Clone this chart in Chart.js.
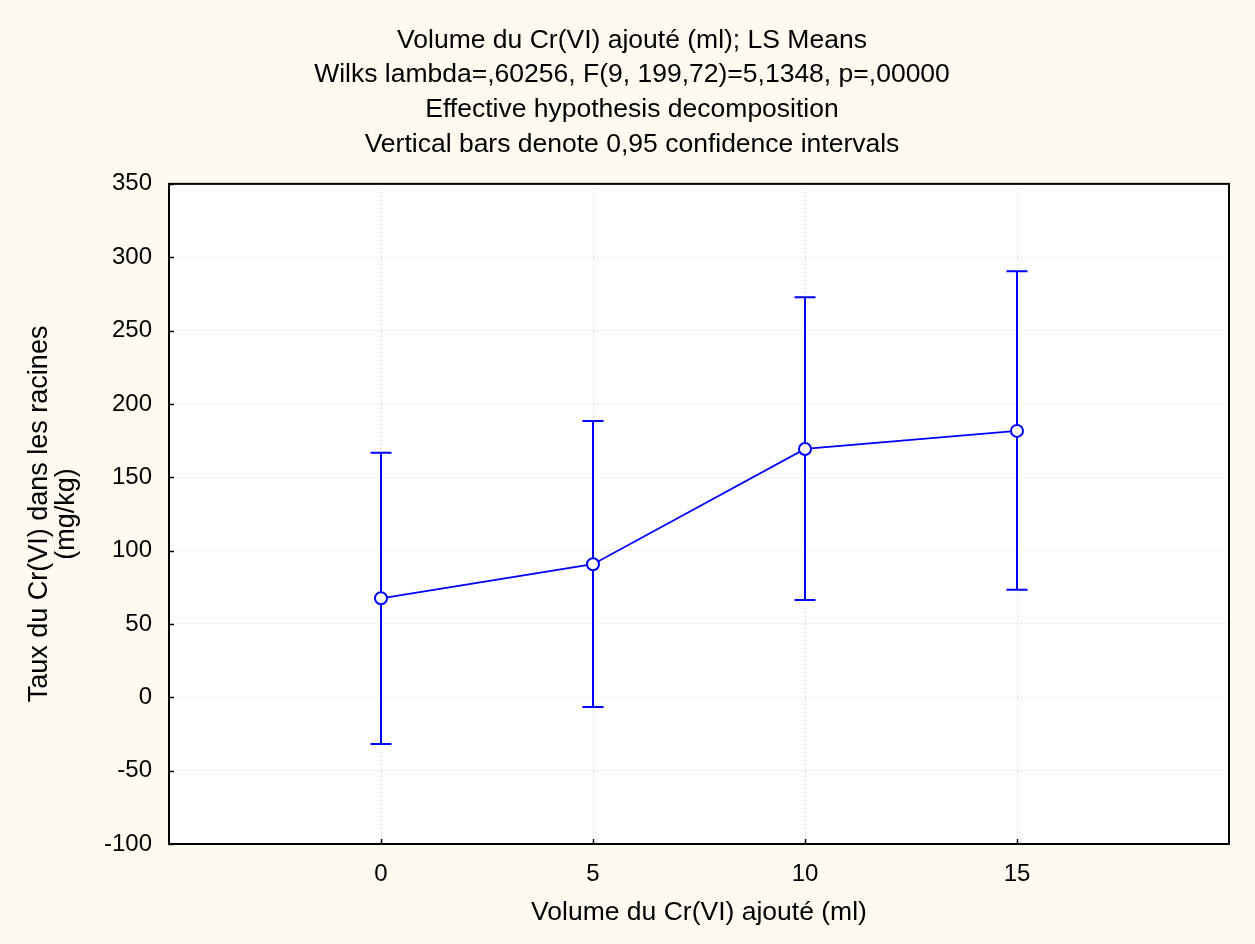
<!DOCTYPE html>
<html>
<head>
<meta charset="utf-8">
<script src="https://cdn.jsdelivr.net/npm/chart.js@4/dist/chart.umd.min.js"></script>
<style>
  html, body { margin: 0; padding: 0; background: #FEFAF0; }
  #wrap { width: 1255px; height: 944px; }
  canvas { display: block; }
</style>
</head>
<body>
<div id="wrap"><canvas id="c" width="1255" height="944"></canvas></div>
<script>
// ---- data ----
const volumes = [0, 5, 10, 15];
const lsMeans = [67.5, 90.7, 169.3, 181.6];
const ciLower = [-31.8, -6.6, 66.4, 73.4];
const ciUpper = [166.7, 188.4, 272.7, 290.5];
const xTickValues = [0, 5, 10, 15];
const titleLines = [
  'Volume du Cr(VI) ajouté (ml); LS Means',
  'Wilks lambda=,60256, F(9, 199,72)=5,1348, p=,00000',
  'Effective hypothesis decomposition',
  'Vertical bars denote 0,95 confidence intervals'
];
const xAxisTitle = 'Volume du Cr(VI) ajouté (ml)';
const yAxisTitle = ['Taux du Cr(VI) dans les racines', '(mg/kg)'];

const FONT = "'Liberation Sans', Arial, sans-serif";
const BLUE = '#0000FF';

const plotFrame = {
  id: 'plotFrame',
  beforeDraw(chart) {
    const {ctx, chartArea: a} = chart;
    ctx.save();
    ctx.fillStyle = '#FFFFFF';
    ctx.fillRect(a.left, a.top, a.right - a.left, a.bottom - a.top);
    ctx.restore();
  },
  beforeDatasetsDraw(chart) {
    const {ctx, scales: {x, y}} = chart;
    ctx.save();
    ctx.strokeStyle = BLUE;
    ctx.lineWidth = 2;
    for (let i = 0; i < volumes.length; i++) {
      const px = x.getPixelForValue(volumes[i]);
      const pLo = y.getPixelForValue(ciLower[i]);
      const pHi = y.getPixelForValue(ciUpper[i]);
      ctx.beginPath();
      ctx.moveTo(px, pLo); ctx.lineTo(px, pHi);
      ctx.moveTo(px - 10.5, pLo); ctx.lineTo(px + 10.5, pLo);
      ctx.moveTo(px - 10.5, pHi); ctx.lineTo(px + 10.5, pHi);
      ctx.stroke();
    }
    ctx.restore();
  },
  afterDatasetsDraw(chart) {
    const {ctx, chartArea: a, scales: {x, y}} = chart;
    ctx.save();
    ctx.strokeStyle = '#000000';
    ctx.lineWidth = 1.5;
    ctx.beginPath();
    y.ticks.forEach(t => {
      const py = Math.round(y.getPixelForValue(t.value)) + 0.5;
      ctx.moveTo(a.left, py); ctx.lineTo(a.left + 5, py);
    });
    x.ticks.forEach(t => {
      const px = Math.round(x.getPixelForValue(t.value)) + 0.5;
      ctx.moveTo(px, a.bottom); ctx.lineTo(px, a.bottom - 5);
    });
    ctx.stroke();
    ctx.lineWidth = 2;
    ctx.strokeRect(a.left, a.top, a.right - a.left, a.bottom - a.top);
    ctx.restore();
  }
};

new Chart(document.getElementById('c'), {
  type: 'line',
  data: {
    datasets: [{
      data: volumes.map((v, i) => ({x: v, y: lsMeans[i]})),
      borderColor: BLUE,
      borderWidth: 1.8,
      pointRadius: 6,
      pointHoverRadius: 6,
      pointBorderWidth: 2,
      pointBackgroundColor: '#FFFFFF',
      pointBorderColor: BLUE,
      tension: 0,
      fill: false
    }]
  },
  options: {
    responsive: false,
    animation: false,
    events: [],
    layout: { padding: { left: 35, right: 26, top: 0, bottom: 0 } },
    plugins: {
      legend: { display: false },
      tooltip: { enabled: false },
      title: {
        display: true,
        text: titleLines,
        color: '#000000',
        font: { family: FONT, size: 26.5, weight: 'normal', lineHeight: 1.31 },
        padding: { top: 23, bottom: 22 }
      }
    },
    scales: {
      x: {
        type: 'linear',
        min: -5,
        max: 20,
        afterBuildTicks(scale) { scale.ticks = xTickValues.map(v => ({value: v})); },
        afterFit(scale) { scale.height = 100; },
        ticks: { color: '#000000', font: { family: FONT, size: 24 }, padding: 16, maxRotation: 0 },
        grid: { color: '#CFCFCF', lineWidth: 1, drawTicks: false },
        border: { display: false, dash: [1, 3] },
        title: {
          display: true, text: xAxisTitle, color: '#000000',
          font: { family: FONT, size: 26.5, lineHeight: 1 },
          padding: { top: 0, bottom: 18 }
        }
      },
      y: {
        type: 'linear',
        min: -100,
        max: 350,
        afterFit(scale) { scale.width = 134; },
        ticks: { stepSize: 50, color: '#000000', font: { family: FONT, size: 24 }, padding: 17 },
        grid: { color: '#CFCFCF', lineWidth: 1, drawTicks: false },
        border: { display: false, dash: [1, 3] },
        title: {
          display: true, text: yAxisTitle, color: '#000000',
          font: { family: FONT, size: 27, lineHeight: 1 },
          padding: { top: -8.5, bottom: 0 }
        }
      }
    }
  },
  plugins: [plotFrame]
});
</script>
</body>
</html>
